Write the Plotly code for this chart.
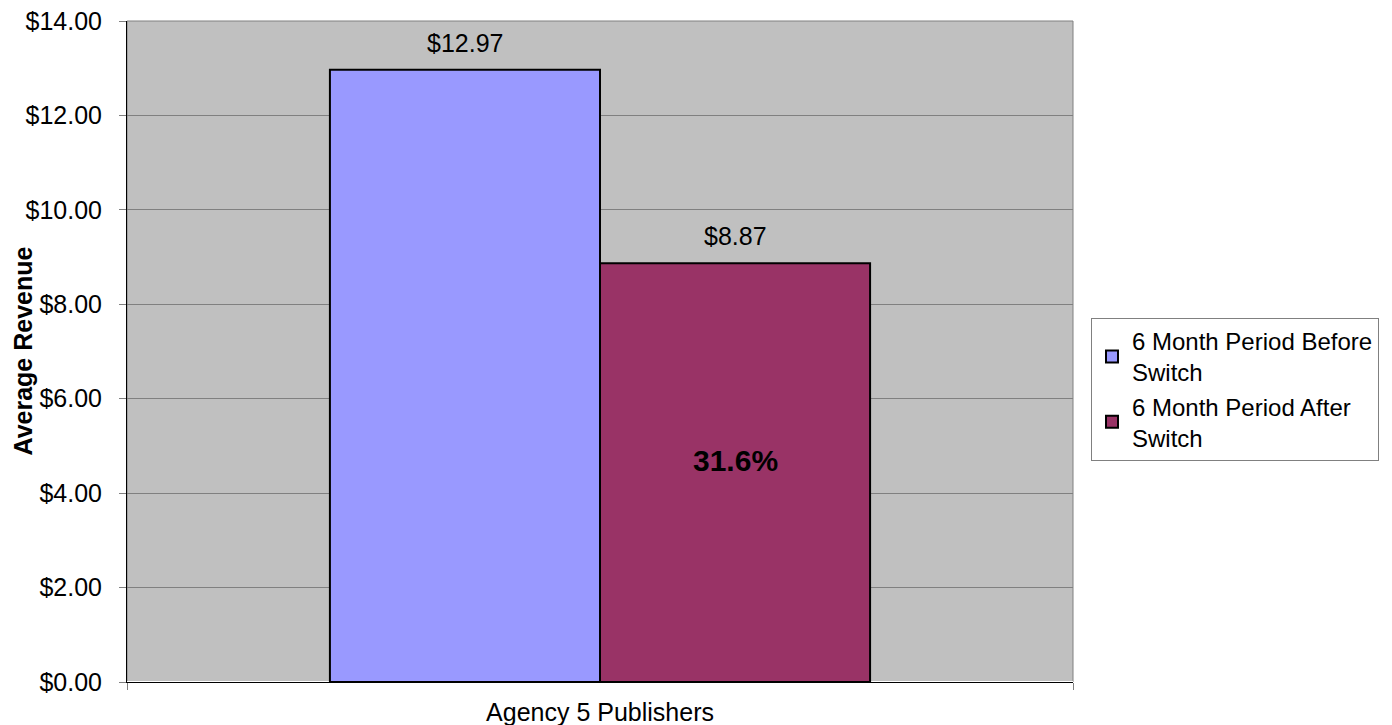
import plotly.graph_objects as go

categories = ["Agency 5 Publishers"]
series_names = ["6 Month Period Before<br>Switch", "6 Month Period After<br>Switch"]
before_values = [12.97]
after_values = [8.87]
value_labels = ["$12.97", "$8.87"]
change_label = "31.6%"
y_ticks = [0, 2, 4, 6, 8, 10, 12, 14]
y_tick_labels = ["$%.2f" % v for v in y_ticks]

FONT = "Liberation Sans, Arial, sans-serif"
FS = 25

fig = go.Figure()
fig.add_trace(go.Bar(x=categories, y=before_values, name=series_names[0],
                     marker=dict(color="#9999FF", line=dict(color="black", width=2))))
fig.add_trace(go.Bar(x=categories, y=after_values, name=series_names[1],
                     marker=dict(color="#993366", line=dict(color="black", width=2))))

# value labels above the bars
for i, (v, lab) in enumerate(zip([before_values[0], after_values[0]], value_labels)):
    fig.add_annotation(x=categories[0], y=v, text=lab, showarrow=False,
                       xshift=-135 if i == 0 else 135, yanchor="bottom", yshift=11,
                       font=dict(size=FS, color="black", family=FONT))

# percentage change label inside the second bar
fig.add_annotation(x=categories[0], y=after_values[0] / 2, text="<b>%s</b>" % change_label,
                   showarrow=False, xshift=135, yshift=12,
                   font=dict(size=30, color="black", family=FONT))

# y axis title
fig.add_annotation(xref="paper", yref="paper", x=0, y=0.5, xshift=-105,
                   xanchor="center", yanchor="middle",
                   text="<b>Average Revenue</b>", textangle=-90, showarrow=False,
                   font=dict(size=FS, color="black", family=FONT))

fig.update_layout(
    width=1384, height=718,
    margin=dict(l=119, r=319, t=13, b=44, autoexpand=False),
    paper_bgcolor="white", plot_bgcolor="#C0C0C0",
    barmode="group", bargap=0.429, bargroupgap=0,
    font=dict(family=FONT, size=FS, color="black"),
    showlegend=True,
    legend=dict(x=1.019, y=0.443, xanchor="left", yanchor="middle",
                bordercolor="#808080", borderwidth=1, bgcolor="white",
                font=dict(size=24, family=FONT), tracegroupgap=0,
                itemwidth=30),
    xaxis=dict(showgrid=False, showline=True, linecolor="black", linewidth=1,
               ticks="outside", tickson="boundaries", ticklen=7, tickcolor="#808080",
               tickfont=dict(size=FS), range=[-0.5, 0.5], ticklabelstandoff=8,
               automargin=False),
    yaxis=dict(range=[0, 14], tickvals=y_ticks, ticktext=y_tick_labels,
               showgrid=True, gridcolor="#808080", gridwidth=1,
               showline=True, linecolor="black", linewidth=1,
               ticks="outside", ticklen=7, tickcolor="#808080",
               tickfont=dict(size=FS), ticklabelstandoff=12,
               ticklabeloverflow="allow", automargin=False),
)
fig.add_shape(type="rect", xref="paper", yref="paper", x0=0, y0=0, x1=1, y1=1,
              line=dict(color="#808080", width=1), layer="below")

fig.write_html("out.html")
